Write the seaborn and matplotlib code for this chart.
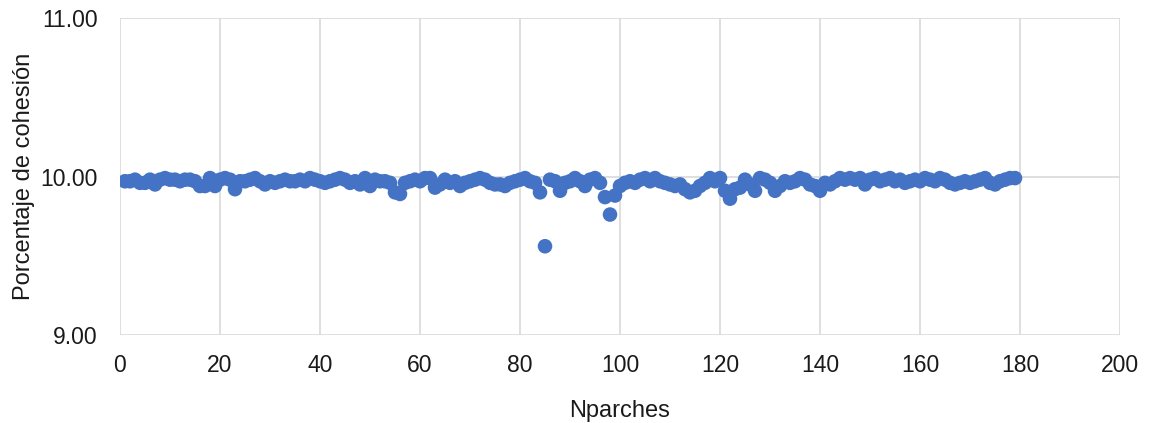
import matplotlib
matplotlib.use("Agg")
import matplotlib.pyplot as plt
import seaborn as sns
import pandas as pd

nparches = list(range(1, 180))
cohesion = [
    9.97, 9.97, 9.98, 9.96, 9.96, 9.98, 9.95, 9.98, 9.99, 9.98,
    9.98, 9.97, 9.98, 9.98, 9.97, 9.94, 9.94, 9.99, 9.94, 9.98,
    9.99, 9.98, 9.92, 9.97, 9.97, 9.98, 9.99, 9.97, 9.95, 9.97,
    9.96, 9.97, 9.98, 9.97, 9.97, 9.98, 9.97, 9.99, 9.98, 9.97,
    9.96, 9.97, 9.98, 9.99, 9.98, 9.96, 9.97, 9.95, 9.99, 9.94,
    9.98, 9.97, 9.97, 9.96, 9.90, 9.89, 9.96, 9.97, 9.98, 9.97,
    9.99, 9.99, 9.93, 9.95, 9.98, 9.96, 9.97, 9.94, 9.96, 9.97,
    9.98, 9.99, 9.98, 9.96, 9.95, 9.95, 9.94, 9.96, 9.97, 9.98,
    9.99, 9.97, 9.96, 9.90, 9.56, 9.98, 9.97, 9.91, 9.96, 9.97,
    9.99, 9.97, 9.94, 9.98, 9.99, 9.96, 9.87, 9.76, 9.88, 9.94,
    9.96, 9.97, 9.96, 9.98, 9.99, 9.97, 9.99, 9.97, 9.96, 9.95,
    9.94, 9.95, 9.92, 9.90, 9.91, 9.94, 9.96, 9.99, 9.97, 9.99,
    9.91, 9.86, 9.92, 9.93, 9.98, 9.95, 9.91, 9.99, 9.98, 9.96,
    9.91, 9.94, 9.97, 9.96, 9.97, 9.99, 9.98, 9.95, 9.94, 9.91,
    9.96, 9.95, 9.97, 9.99, 9.98, 9.99, 9.98, 9.99, 9.95, 9.98,
    9.99, 9.97, 9.98, 9.99, 9.97, 9.98, 9.96, 9.97, 9.98, 9.97,
    9.99, 9.98, 9.97, 9.99, 9.98, 9.96, 9.95, 9.96, 9.97, 9.96,
    9.97, 9.98, 9.99, 9.96, 9.95, 9.97, 9.98, 9.99, 9.99,
]
x_ticks = [0, 20, 40, 60, 80, 100, 120, 140, 160, 180, 200]
y_ticks = [9.0, 10.0, 11.0]

sns.set_theme(style="white")
plt.rcParams['font.family'] = ['Liberation Sans', 'DejaVu Sans']

df = pd.DataFrame({"Nparches": nparches, "Porcentaje de cohesión": cohesion})

fig = plt.figure(figsize=(11.53, 4.23), dpi=100)
ax = fig.add_axes([120/1153, 1-335/423, 1000/1153, 317/423])

sns.scatterplot(data=df, x="Nparches", y="Porcentaje de cohesión", ax=ax,
                color="#4472C4", s=110, edgecolor="none", zorder=3, legend=False)

ax.set_xlim(0, 200)
ax.set_ylim(9.0, 11.0)
ax.set_xticks(x_ticks)
ax.set_yticks(y_ticks)
ax.set_yticklabels([f"{v:.2f}" for v in y_ticks])
ax.grid(True, color="#d9d9d9", linewidth=1.2, zorder=0)
for s in ax.spines.values():
    s.set_visible(False)
ax.tick_params(axis='both', length=0, labelsize=16.5, colors="#1a1a1a")
ax.tick_params(axis='x', pad=14)
ax.tick_params(axis='y', pad=16)
ax.set_xlabel("Nparches", fontsize=17, color="#1a1a1a", labelpad=16)
ax.set_ylabel("Porcentaje de cohesión", fontsize=17, color="#1a1a1a", labelpad=4)

fig.savefig("out.png", dpi=100)
